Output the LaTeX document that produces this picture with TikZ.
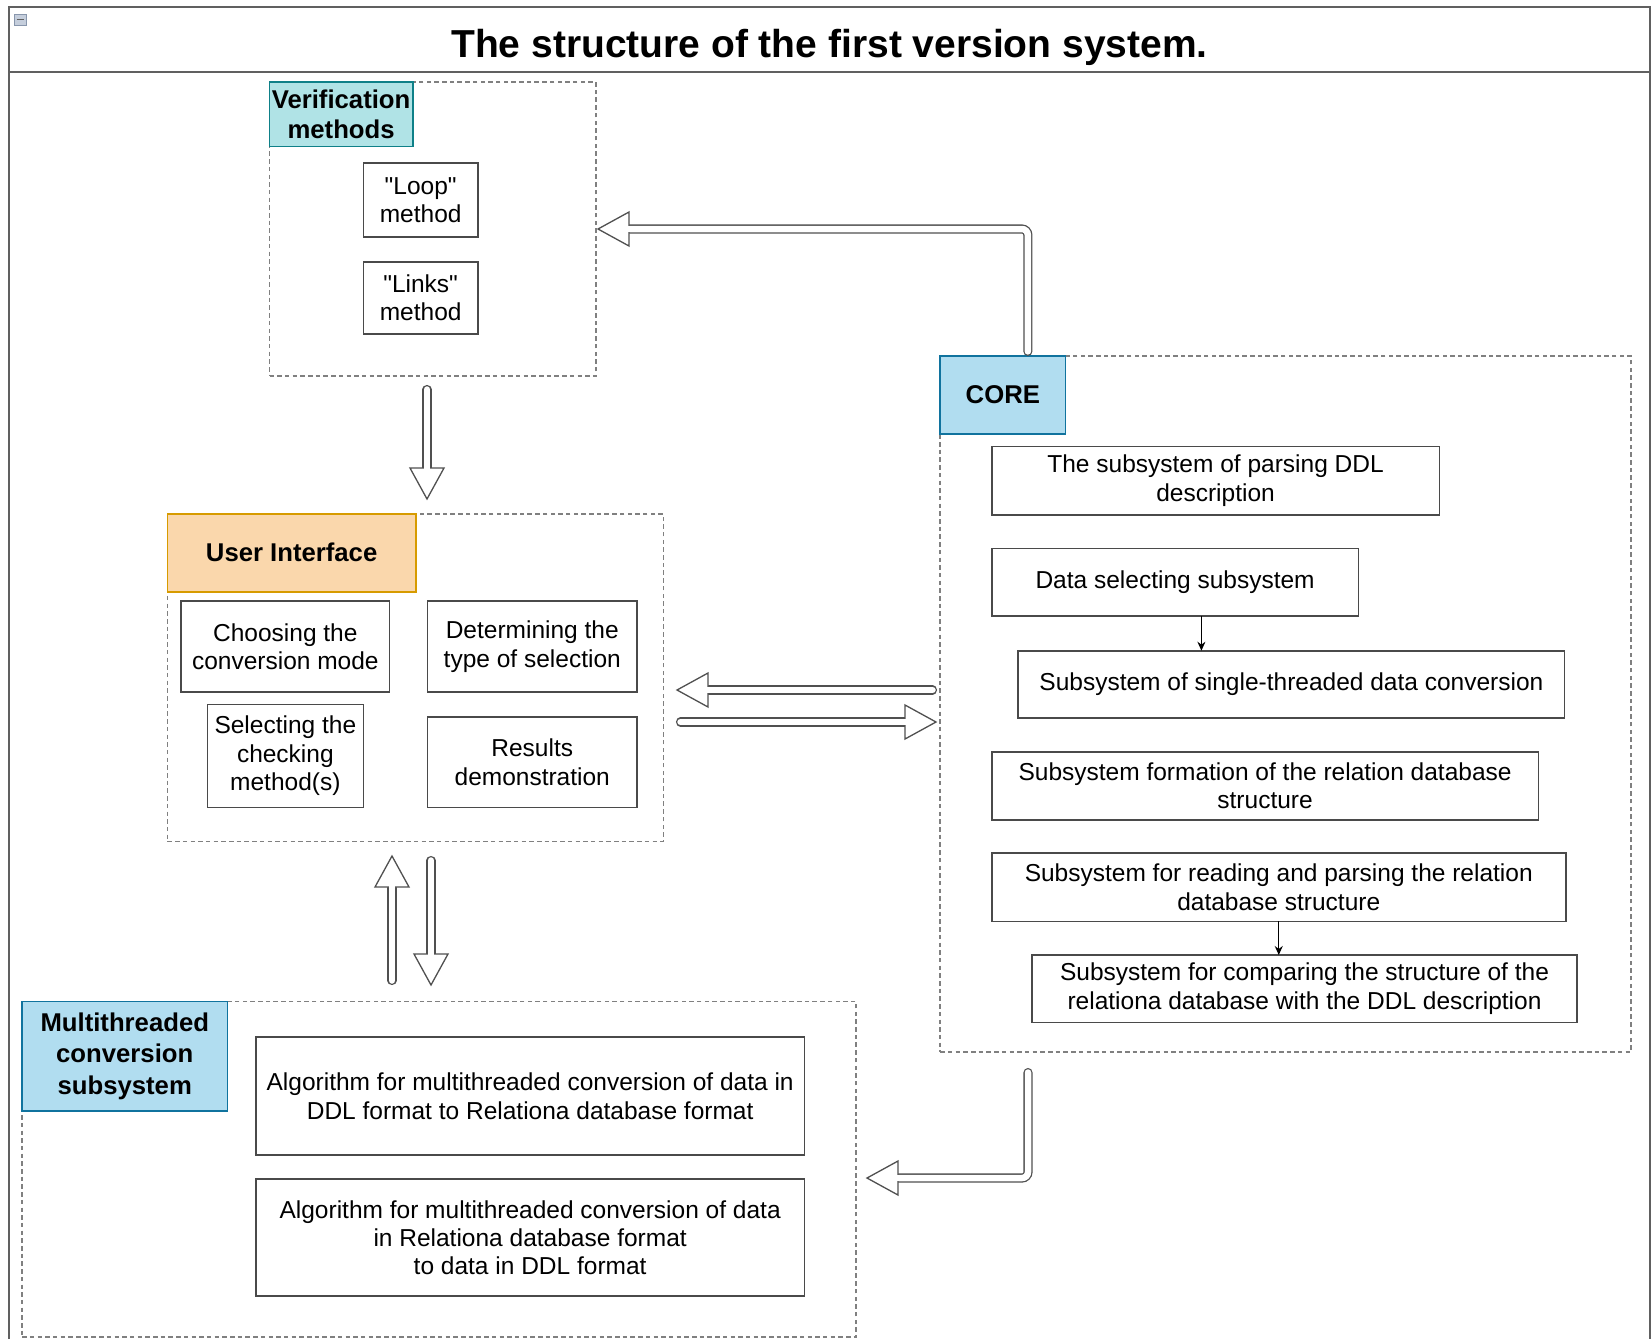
\documentclass[tikz,border=0pt]{standalone}
\usepackage{fontspec}
\setmainfont{Liberation Sans}
\usetikzlibrary{arrows.meta}
\definecolor{grpgray}{HTML}{808080}
\definecolor{boxgray}{HTML}{4A4A4A}
\definecolor{arrgray}{HTML}{505050}
\definecolor{framegray}{HTML}{606060}
\definecolor{tealfill}{HTML}{B0E3E6}
\definecolor{tealdraw}{HTML}{0E8088}
\definecolor{orfill}{HTML}{FAD7AC}
\definecolor{ordraw}{HTML}{D79B00}
\definecolor{blfill}{HTML}{B1DDF0}
\definecolor{bldraw}{HTML}{10739E}
\definecolor{iconfill}{HTML}{C5CEDC}
\definecolor{icondraw}{HTML}{8896AC}

\newcommand\mybox[7]{%
  \pgfmathsetmacro\mbw{(#5)-(#3)}%
  \pgfmathsetmacro\mbh{(#6)-(#4)}%
  \node[#1, minimum width=\mbw pt, minimum height=\mbh pt] (#2) at ({((#3)+(#5))/2},{((#4)+(#6))/2}) {#7};}

\newcommand\flexhead[2]{%
  \begin{scope}[shift={(#1)}, rotate=#2]
    \filldraw[fill=white, draw=arrgray, line width=1.3pt, line join=miter] (0pt,0pt) -- (-31pt,17pt) -- (-31pt,-17pt) -- cycle;
    \fill[white] (-33pt,-3.1pt) rectangle (-29.6pt,3.1pt);
  \end{scope}}

\tikzset{
  grp/.style={draw=grpgray, line width=1.6pt, dash pattern=on 4.5pt off 3.2pt, inner sep=0pt, outer sep=0pt},
  item/.style={draw=boxgray, line width=1.6pt, fill=white, align=center, inner sep=0pt, outer sep=0pt, font=\fontsize{24.5}{28.4}\selectfont},
  hdr/.style={line width=1.6pt, align=center, inner sep=0pt, outer sep=0pt, font=\fontsize{25.7}{30.5}\selectfont\bfseries},
  flexshaft/.style={draw=arrgray, line width=1.3pt, double=white, double distance=6.5pt, line cap=round},
  thinarrow/.style={draw=black, line width=1.3pt, -{Stealth[length=9pt,width=8pt]}},
  frame/.style={draw=framegray, line width=1.8pt},
}

\begin{document}
\begin{tikzpicture}[x=1pt, y=-1pt]
\useasboundingbox (0,0) rectangle (1651,1339);
\fill[white] (0,0) rectangle (1651,1339);

% outer frame
\draw[frame] (9,1339) -- (9,7) -- (1650,7) -- (1650,1339);
\draw[frame] (9,72) -- (1650,72);
\filldraw[fill=iconfill, draw=icondraw, line width=0.8pt] (14,14) rectangle (26,25);
\draw[draw=framegray, line width=1.2pt] (16.5,19.5) -- (23.5,19.5);
\node[anchor=base, inner sep=0pt, font=\fontsize{39}{46}\selectfont\bfseries] (title) at (829.5,57.5) {The structure of the first version system.};

% Verification methods
\mybox{grp}{verif}{269.5}{82}{596}{376}{}
\mybox{hdr, fill=tealfill, draw=tealdraw}{verifhdr}{269.5}{82}{412.7}{146.4}{Verification\\methods}
\mybox{item}{loop}{363.3}{163.2}{478}{236.9}{\textquotedbl Loop\textquotedbl\\method}
\mybox{item}{links}{363.3}{262.2}{478}{333.8}{\textquotedbl Links\textquotedbl\\method}

% User interface
\mybox{grp}{ui}{167.4}{513.8}{663.3}{841.3}{}
\mybox{hdr, fill=orfill, draw=ordraw}{uihdr}{167.4}{513.8}{415.9}{591.7}{User Interface}
\mybox{item}{choose}{181.1}{601.2}{389.6}{691.8}{Choosing the\\conversion mode}
\mybox{item}{determ}{427.5}{601.2}{637}{691.8}{Determining the\\type of selection}
\mybox{item}{select}{207.4}{704.4}{363.3}{807.6}{Selecting the\\checking\\method(s)}
\mybox{item}{results}{427.5}{717}{637}{807.6}{Results\\demonstration}

% CORE
\mybox{grp}{core}{940.2}{355.9}{1631}{1051.9}{}
\mybox{hdr, fill=blfill, draw=bldraw}{corehdr}{940.2}{355.9}{1065.5}{433.8}{CORE}
\mybox{item}{parse}{991.8}{446.4}{1439.3}{514.9}{The subsystem of parsing DDL\\description}
\mybox{item}{datasel}{991.8}{548.6}{1358.4}{616}{Data selecting subsystem}
\mybox{item}{single}{1018.2}{650.7}{1564.6}{718.1}{Subsystem of single-threaded data conversion}
\mybox{item}{formation}{991.8}{751.8}{1538.3}{820.2}{Subsystem formation of the relation database\\structure}
\mybox{item}{reading}{991.8}{852.8}{1565.7}{921.3}{Subsystem for reading and parsing the relation\\database structure}
\mybox{item}{compare}{1031.8}{955}{1577.2}{1022.4}{Subsystem for comparing the structure of the\\relationa database with the DDL description}

% Multithreaded
\mybox{grp}{multi}{22.1}{1001.3}{856}{1337.2}{}
\mybox{hdr, fill=blfill, draw=bldraw, font=\fontsize{25.7}{31.3}\selectfont\bfseries}{multihdr}{22.1}{1001.3}{227.4}{1110.8}{Multithreaded\\conversion\\subsystem}
\mybox{item}{alg1}{255.9}{1037.1}{804.4}{1155}{Algorithm for multithreaded conversion of data in\\DDL format to Relationa database format}
\mybox{item}{alg2}{255.9}{1179.2}{804.4}{1296.1}{Algorithm for multithreaded conversion of data\\in Relationa database format\\to data in DDL format}

% thin arrows inside CORE
\coordinate (ds) at ([xshift=26.3pt]datasel.south);
\draw[thinarrow] (ds) -- (ds |- single.north);
\draw[thinarrow] (reading.south) -- (reading.south |- compare.north);

% flex arrows
% CORE -> Verification
\coordinate (a1s) at ([xshift=25pt, yshift=4.5pt]corehdr.north);
\coordinate (a1t) at ([xshift=2pt]verif.east);
\draw[flexshaft, rounded corners=6pt] (a1s) |- ([xshift=31pt]a1t);
\flexhead{a1t}{180}

% Verification -> UI
\coordinate (a2s) at (427,389.5);
\coordinate (a2t) at (427,499);
\draw[flexshaft] (a2s) -- ([yshift=31pt]a2t);
\flexhead{a2t}{-90}

% CORE -> UI
\coordinate (a3s) at (932.5,690);
\coordinate (a3t) at (677,690);
\draw[flexshaft] (a3s) -- ([xshift=31pt]a3t);
\flexhead{a3t}{180}

% UI -> CORE
\coordinate (a4s) at (680.5,722);
\coordinate (a4t) at (936,722);
\draw[flexshaft] (a4s) -- ([xshift=-31pt]a4t);
\flexhead{a4t}{0}

% Multi -> UI
\coordinate (a5s) at (392,980.5);
\coordinate (a5t) at (392,856);
\draw[flexshaft] (a5s) -- ([yshift=-31pt]a5t);
\flexhead{a5t}{90}

% UI -> Multi
\coordinate (a6s) at (431,860.5);
\coordinate (a6t) at (431,985);
\draw[flexshaft] (a6s) -- ([yshift=31pt]a6t);
\flexhead{a6t}{-90}

% CORE -> Multi
\coordinate (a7s) at (1028,1072.5);
\coordinate (a7t) at (867,1178);
\draw[flexshaft, rounded corners=6pt] (a7s) |- ([xshift=31pt]a7t);
\flexhead{a7t}{180}
\end{tikzpicture}
\end{document}
